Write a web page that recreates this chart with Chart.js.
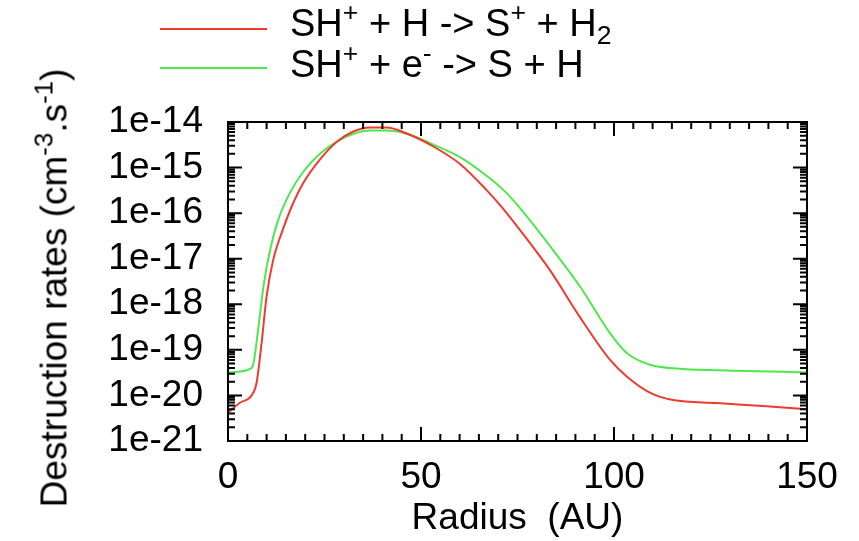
<!DOCTYPE html>
<html>
<head>
<meta charset="utf-8">
<script src="https://cdn.jsdelivr.net/npm/chart.js@4"></script>
<style>
  body { margin: 0; background: #fff; }
  #wrap { position: relative; width: 859px; height: 541px; font-family: "Liberation Sans", Arial, sans-serif; color: #000; }
  #chart { position: absolute; left: 0; top: 0; }
  .txt { position: absolute; font-size: 37px; line-height: 41px; white-space: nowrap; }
  .txt sup { font-size: 0.7em; vertical-align: 0; position: relative; top: -0.55em; }
  .txt sub { font-size: 0.7em; vertical-align: 0; position: relative; top: 0.3em; }
  .legtxt { font-size: 38px; }
  .swatch { position: absolute; height: 2px; width: 107px; }
  #ytitle { left: 56px; top: 288px; transform: translate(-50%, -50%) rotate(-90deg); }
</style>
</head>
<body>
<div id="wrap">
  <canvas id="chart" width="859" height="541"></canvas>
  <div id="ytitle" class="txt">Destruction rates (cm<sup>-3</sup>.s<sup>-1</sup>)</div>
</div>
<script>
// SH+ + H -> S+ + H2
const radiusH = [0, 3.1, 6.1, 7.4, 8.7, 10, 11.7, 13.9, 16.5, 19.5, 23.8, 28.2, 32.5, 36.8, 41.1, 46.3, 53.2, 60.1, 67, 70.5, 75.6, 83.4, 91, 99, 103.3, 109.3, 115.3, 126.6, 139.5, 150];
const rateH = [4.2e-21, 6.9e-21, 1.0e-20, 1.9e-20, 1.4e-19, 1.5e-18, 9.3e-18, 3.7e-17, 1.4e-16, 4.6e-16, 1.5e-15, 3.7e-15, 6.2e-15, 7.6e-15, 7.6e-15, 5.6e-15, 2.9e-15, 1.2e-15, 3.2e-16, 1.5e-16, 4.3e-17, 5.6e-18, 5.5e-19, 6.0e-20, 2.6e-20, 1.15e-20, 7.9e-21, 6.8e-21, 5.8e-21, 5.0e-21];

// SH+ + e- -> S + H
const radiusE = [0, 5.7, 6.6, 7.9, 9.2, 10.9, 13, 16, 19.5, 23.8, 28.2, 32.5, 36.8, 41.1, 46.3, 53.2, 60.1, 67, 72.2, 75.6, 83.4, 91.2, 99, 103.3, 109.3, 117.9, 130.9, 150];
const rateE = [3.2e-20, 3.8e-20, 5.1e-20, 3.2e-19, 2.5e-18, 1.55e-17, 7.1e-17, 2.75e-16, 8.1e-16, 2.0e-15, 3.7e-15, 5.5e-15, 6.5e-15, 6.5e-15, 5.5e-15, 3.2e-15, 1.7e-15, 6.6e-16, 2.75e-16, 1.3e-16, 1.9e-17, 2.45e-18, 2.3e-19, 8.5e-20, 4.7e-20, 3.8e-20, 3.5e-20, 3.2e-20];

const seriesLabels = ['SH+ + H -> S+ + H2', 'SH+ + e- -> S + H'];
const seriesLabelsHtml = ['SH<sup>+</sup> + H -&gt; S<sup>+</sup> + H<sub>2</sub>', 'SH<sup>+</sup> + e<sup>-</sup> -&gt; S + H'];
const seriesColors = ['#ee3b30', '#4ee84e'];

const xTicks = [0, 50, 100, 150];
const yDecades = [1e-21, 1e-20, 1e-19, 1e-18, 1e-17, 1e-16, 1e-15, 1e-14];

const FONT = '"Liberation Sans", Arial, sans-serif';

function toPoints(xs, ys) {
  return xs.map((x, i) => ({ x: x, y: ys[i] }));
}

// gnuplot style frame with inward ticks on all four sides
const framePlugin = {
  id: 'frame',
  afterDraw(chart) {
    const c = chart.ctx;
    const a = chart.chartArea;
    const xs = chart.scales.x, ys = chart.scales.y;
    c.save();
    c.strokeStyle = '#000';
    c.lineWidth = 2;
    c.strokeRect(a.left, a.top, a.right - a.left, a.bottom - a.top);
    c.beginPath();
    for (let v = 0; v <= 150; v += 5) {
      const px = xs.getPixelForValue(v);
      const len = v % 50 === 0 ? 14 : 7;
      c.moveTo(px, a.bottom); c.lineTo(px, a.bottom - len);
      c.moveTo(px, a.top); c.lineTo(px, a.top + len);
    }
    for (let d = -21; d <= -14; d++) {
      for (let m = 1; m <= 9; m++) {
        if (d === -14 && m > 1) break;
        const py = ys.getPixelForValue(m * Math.pow(10, d));
        const len = m === 1 ? 14 : 7;
        c.moveTo(a.left, py); c.lineTo(a.left + len, py);
        c.moveTo(a.right, py); c.lineTo(a.right - len, py);
      }
    }
    c.stroke();
    c.restore();
  }
};

const ctx = document.getElementById('chart').getContext('2d');
const chart = new Chart(ctx, {
  type: 'line',
  data: {
    datasets: [
      { label: seriesLabels[0], data: toPoints(radiusH, rateH), borderColor: seriesColors[0], borderWidth: 2, pointRadius: 0, fill: false, cubicInterpolationMode: 'monotone' },
      { label: seriesLabels[1], data: toPoints(radiusE, rateE), borderColor: seriesColors[1], borderWidth: 2, pointRadius: 0, fill: false, cubicInterpolationMode: 'monotone' }
    ]
  },
  options: {
    responsive: false,
    animation: false,
    layout: { padding: { left: 0, right: 52, top: 122, bottom: 0 } },
    plugins: { legend: { display: false }, tooltip: { enabled: false } },
    scales: {
      x: {
        type: 'linear', min: 0, max: 150,
        afterBuildTicks: s => { s.ticks = xTicks.map(v => ({ value: v })); },
        afterFit: s => { s.height = 100; },
        ticks: { color: '#000', font: { family: FONT, size: 37 }, padding: 15, autoSkip: false, maxRotation: 0 },
        grid: { display: false, drawTicks: false },
        border: { display: false },
        title: { display: true, text: 'Radius  (AU)', color: '#000', font: { family: FONT, size: 37 }, padding: 0 }
      },
      y: {
        type: 'logarithmic', min: 1e-21, max: 1e-14,
        afterBuildTicks: s => { s.ticks = yDecades.map(v => ({ value: v })); },
        afterFit: s => { s.width = 228; },
        ticks: {
          color: '#000', font: { family: FONT, size: 37 }, padding: 25, autoSkip: false,
          callback: v => '1e' + Math.round(Math.log10(v))
        },
        grid: { display: false, drawTicks: false },
        border: { display: false }
      }
    }
  },
  plugins: [framePlugin]
});

// legend with super/subscripts, built from the datasets
const wrap = document.getElementById('wrap');
chart.data.datasets.forEach((ds, i) => {
  const sw = document.createElement('div');
  sw.className = 'swatch';
  sw.style.left = '160px';
  sw.style.top = (28 + i * 39) + 'px';
  sw.style.background = ds.borderColor;
  wrap.appendChild(sw);
  const t = document.createElement('div');
  t.className = 'txt legtxt';
  t.style.left = '290px';
  t.style.top = (3 + i * 41) + 'px';
  t.innerHTML = seriesLabelsHtml[i];
  wrap.appendChild(t);
});
</script>
</body>
</html>
